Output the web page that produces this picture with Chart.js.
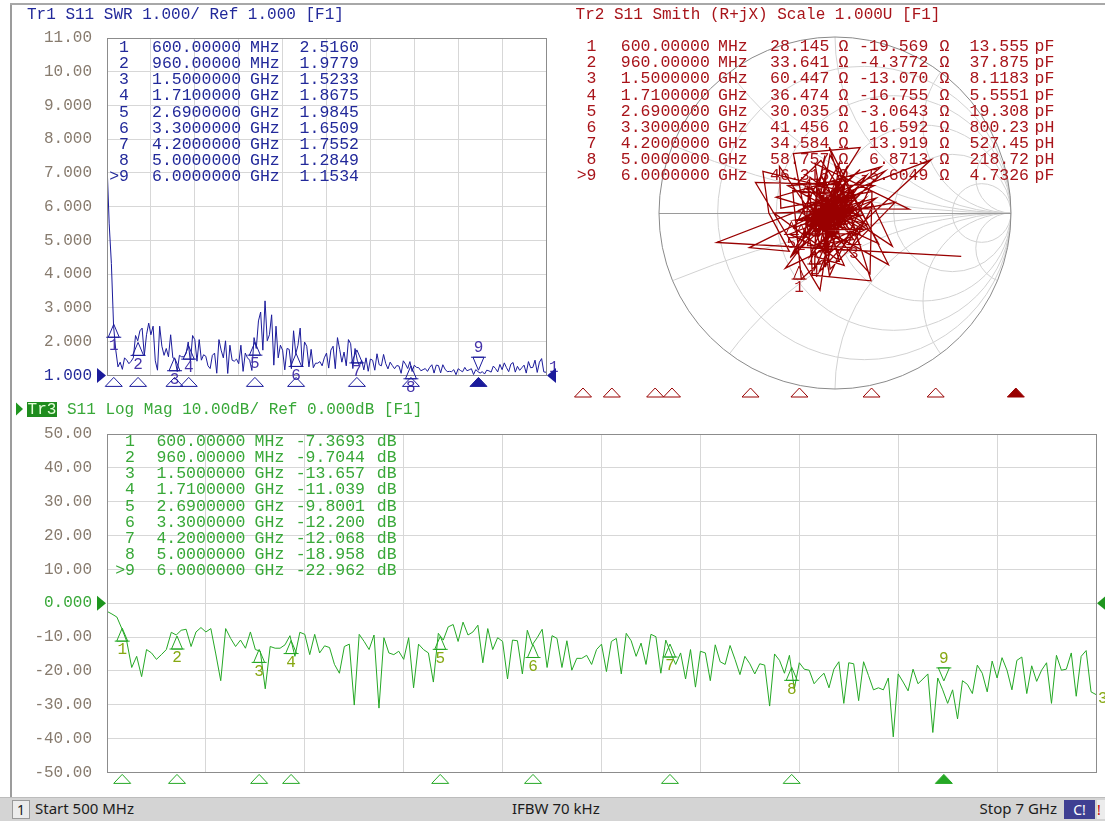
<!DOCTYPE html>
<html>
<head>
<meta charset="utf-8">
<title>S11 – SWR / Smith / Log Mag</title>
<script src="https://cdn.jsdelivr.net/npm/chart.js@4.4.1/dist/chart.umd.min.js"></script>
<style>
  html, body { margin: 0; padding: 0; background: #ffffff; }
  body { position: relative; width: 1105px; height: 821px; overflow: hidden; }
  canvas { position: absolute; display: block; box-sizing: content-box; border: 0; padding: 0; }
  #swrChart { left: 0; top: 0; width: 560px; height: 400px; }
  #smithChart { left: 560px; top: 0; width: 545px; height: 400px; }
  #logChart { left: 0; top: 400px; width: 1105px; height: 397px; }
  #edgeLeft { position: absolute; left: 10px; top: 3px; width: 2px; height: 794px; background: #9c9c9c; }
  #edgeTop { position: absolute; left: 10px; top: 3px; width: 1095px; height: 2px; background: #a8a8a8; }
  #status { position: absolute; left: 0; top: 797px; width: 1105px; height: 24px; background: #d4d4d4;
            border-top: 1px solid #bcbcbc; box-sizing: border-box;
            font-family: "Noto Sans", "DejaVu Sans", sans-serif; font-size: 15px; color: #1c1c1c; }
  #status span { position: absolute; top: 0px; white-space: nowrap; }
  #chan { position: absolute; left: 12px; top: 2px; width: 18px; height: 19px; background: #ececec;
          border: 1px solid #9a9a9a; box-sizing: border-box; text-align: center; line-height: 17px; font-size: 14px; }
  #cal { position: absolute; left: 1064px; top: 2px; width: 31px; height: 19px; background: #3f3f92;
         color: #ffffff; text-align: center; line-height: 19px; font-size: 14px; }
  #warn { position: absolute; left: 1097px; top: 2px; width: 8px; height: 19px; background: #ececec;
          color: #c00000; line-height: 19px; font-size: 14px; }
</style>
</head>
<body>
<div id="edgeLeft"></div>
<div id="edgeTop"></div>
<canvas id="swrChart" width="560" height="400"></canvas>
<canvas id="smithChart" width="545" height="400"></canvas>
<canvas id="logChart" width="1105" height="397"></canvas>
<div id="status">
  <div id="chan">1</div>
  <span style="left:35px">Start 500 MHz</span>
  <span style="left:512px">IFBW 70 kHz</span>
  <span style="right:48px">Stop 7 GHz</span>
  <div id="cal">C!</div>
  <div id="warn">!</div>
</div>
<script>
// ---------------- sweep ----------------
const sweepStartGHz = 0.5;
const sweepStopGHz = 7.0;

// S11 magnitude (dB) for each of the 201 sweep points
const s11Db = [
  -2.4, -3.2, -4.1, -7.5, -11.3, -19.0, -15.7, -21.7, -13.7, -14.7,
  -16.6, -15.2, -13.7, -8.6, -9.4, -8.0, -7.7, -12.8, -8.5, -7.2,
  -8.5, -7.5, -15.0, -22.9, -7.5, -10.4, -12.8, -10.9, -13.3, -8.5,
  -13.7, -14.2, -25.3, -12.8, -13.3, -13.3, -12.3, -9.6, -15.7, -8.6,
  -9.2, -15.2, -9.2, -14.7, -12.6, -13.1, -18.1, -20.7, -12.8, -12.1,
  -30.1, -9.2, -11.3, -13.7, -9.4, -31.0, -10.2, -14.7, -15.2, -14.2,
  -16.6, -10.2, -25.0, -12.1, -13.7, -14.7, -23.3, -8.9, -10.9, -7.0,
  -6.3, -11.3, -5.6, -9.4, -8.5, -6.5, -17.6, -7.5, -13.7, -10.2,
  -11.3, -22.4, -10.9, -11.1, -20.9, -8.0, -12.3, -10.2, -7.7, -19.0,
  -9.6, -10.4, -19.0, -11.1, -19.8, -16.3, -16.3, -15.4, -18.1, -13.7,
  -12.1, -20.2, -11.3, -10.4, -20.9, -8.9, -11.1, -15.7, -11.8, -18.1,
  -9.2, -9.9, -20.7, -10.9, -14.7, -18.1, -14.7, -22.4, -13.7, -24.8,
  -14.2, -14.7, -22.9, -12.3, -17.3, -18.1, -12.5, -16.6, -21.1, -15.7,
  -17.9, -20.9, -17.9, -18.3, -30.4, -15.0, -16.9, -20.7, -15.4, -25.3,
  -17.6, -19.5, -19.8, -23.8, -22.1, -20.7, -25.0, -19.5, -17.3, -29.6,
  -17.6, -17.9, -28.8, -17.3, -21.4, -25.6, -25.0, -25.6, -22.1, -39.5,
  -20.9, -23.3, -25.9, -19.5, -23.8, -22.4, -20.9, -38.2, -22.1, -25.6,
  -29.6, -25.6, -34.2, -22.9, -24.0, -26.7, -18.3, -20.7, -26.2, -17.1,
  -22.1, -16.1, -19.8, -25.6, -16.9, -15.9, -26.7, -18.5, -23.1, -19.8,
  -17.6, -29.6, -15.4, -19.8, -19.5, -14.7, -27.5, -15.7, -14.0, -26.2,
  -27.0
];

// S11 phase (degrees) for each sweep point
const s11PhaseDeg = [
  -19, 194, 29, -117, 152, 63, -160, 88, 215, -40,
  130, -75, 176, 40, -135, 69, 125, 233, 250, -62,
  95, -44, -170, 160, 3, 112, -98, 205, 18, -30,
  140, 72, -120, 190, 10, -65, 230, 100, -150, 45,
  165, -20, 255, 60, -110, 135, 200, -45, 110, -160,
  30, 180, -85, 120, 250, -10, 150, 80, -130, 215,
  55, -100, 170, 20, 240, -55, 125, -135, 85, -101,
  159, 35, 202, -140, 180, 150, 68, 228, -25, 105,
  140, 10, -120, 75, 200, -60, 30, 175, 140, -150,
  95, -35, 185, 50, -115, 160, -5, 220, 70, -145,
  125, 15, 245, -80, 170, 265, 40, -125, 100, 195,
  10, -95, 145, 60, -160, 230, 25, -70, 190, 115,
  -20, 250, 80, -140, 160, 35, -105, 210, 120, -50,
  175, 65, -155, 240, 15, 135, -85, 200, 90, -30,
  155, 45, -130, 225, 105, -65, 180, 20, -110, 140,
  260, 55, -150, 195, -15, 120, 235, 75, -95, 165,
  0, 215, -45, 130, 85, -170, 250, 35, -120, 150,
  -25, 205, 95, -140, 170, 60, -80, 240, 115, -5,
  190, 40, -135, 145, 225, 70, -60, 175, -100, 20,
  205, 130, -155, 80, 245, -30, 160, 50, -115, 185,
  -40
];

// ---------------- axes ----------------
const freqGridGHz = [0.5, 1.15, 1.8, 2.45, 3.1, 3.75, 4.4, 5.05, 5.7, 6.35, 7.0];
const swrTicks = [1, 2, 3, 4, 5, 6, 7, 8, 9, 10, 11];
const swrTickLabels = ['1.000', '2.000', '3.000', '4.000', '5.000', '6.000', '7.000', '8.000', '9.000', '10.00', '11.00'];
const dbTicks = [-50, -40, -30, -20, -10, 0, 10, 20, 30, 40, 50];
const dbTickLabels = ['-50.00', '-40.00', '-30.00', '-20.00', '-10.00', '0.000', '10.00', '20.00', '30.00', '40.00', '50.00'];
const smithResistance = [0.2, 0.5, 1, 2, 5];
const smithReactance = [0.2, 0.5, 1, 2, 5];

// ---------------- markers ----------------
const markerFreqGHz = [0.6, 0.96, 1.5, 1.71, 2.69, 3.3, 4.2, 5.0, 6.0];
const markerFreqText = ['600.00000', '960.00000', '1.5000000', '1.7100000', '2.6900000', '3.3000000', '4.2000000', '5.0000000', '6.0000000'];
const markerFreqUnit = ['MHz', 'MHz', 'GHz', 'GHz', 'GHz', 'GHz', 'GHz', 'GHz', 'GHz'];
const markerSwr = [2.5160, 1.9779, 1.5233, 1.8675, 1.9845, 1.6509, 1.7552, 1.2849, 1.1534];
const markerDb = [-7.3693, -9.7044, -13.657, -11.039, -9.8001, -12.200, -12.068, -18.958, -22.962];
const markerOhmR = [28.145, 33.641, 60.447, 36.474, 30.035, 41.456, 34.584, 58.757, 46.318];
const markerOhmX = [-19.569, -4.3772, -13.070, -16.755, -3.0643, 16.592, 13.919, 6.8713, -5.6049];
const markerLc = [13.555, 37.875, 8.1183, 5.5551, 19.308, 800.23, 527.45, 218.72, 4.7326];
const markerLcUnit = ['pF', 'pF', 'pF', 'pF', 'pF', 'pH', 'pH', 'pH', 'pF'];
const activeMarker = 8;
const refImpedance = 50;

// ---------------- derived traces ----------------
const pointCount = s11Db.length;
const freqGHz = s11Db.map((_, i) => sweepStartGHz + i * (sweepStopGHz - sweepStartGHz) / (pointCount - 1));
const linMag = s11Db.map(db => Math.pow(10, db / 20));
const swrTrace = linMag.map(g => (1 + g) / (1 - g));
const gammaRe = linMag.map((g, i) => g * Math.cos(s11PhaseDeg[i] * Math.PI / 180));
const gammaIm = linMag.map((g, i) => g * Math.sin(s11PhaseDeg[i] * Math.PI / 180));
const markerGamma = markerOhmR.map((r, k) => {
  const x = markerOhmX[k];
  const nr = r - refImpedance, dr = r + refImpedance;
  const den = dr * dr + x * x;
  return { re: (nr * dr + x * x) / den, im: (x * dr - nr * x) / den };
});

// ---------------- styling ----------------
const MONO = '"Liberation Mono", "DejaVu Sans Mono", monospace';
const HEAD_FONT = '16px ' + MONO;
const TABLE_FONT = '16.5px ' + MONO;
const GRID = '#d7d7d7';
const FRAME = '#8c8c8c';
const TICK_TXT = '#877b6e';
const BLUE = '#1b1b9b', BLUE_TXT = '#22299a', BLUE_NUM = '#4634aa';
const RED = '#990000', RED_TXT = '#a8141a';
const GREEN = '#25a825', GREEN_TXT = '#38a838', GREEN_NUM = '#86a812';

const fmt5 = v => v.toPrecision(5);
const markerTag = k => (k === activeMarker ? '>' : '') + (k + 1);

function text(ctx, s, x, y, color, align, font) {
  ctx.font = font || TABLE_FONT;
  ctx.fillStyle = color;
  ctx.textAlign = align || 'left';
  ctx.textBaseline = 'middle';
  ctx.fillText(s, x, y);
}

function frame(ctx, a) {
  ctx.save();
  ctx.strokeStyle = FRAME;
  ctx.lineWidth = 1;
  ctx.strokeRect(Math.round(a.left) + 0.5, Math.round(a.top) + 0.5,
                 Math.round(a.right) - Math.round(a.left), Math.round(a.bottom) - Math.round(a.top));
  ctx.restore();
}

// marker glyph sitting on a trace point: up-triangle below, or down-triangle above for the active one
function traceMarker(ctx, x, y, active, color, numColor, label) {
  const h = 13, w = 5.5;
  ctx.save();
  ctx.strokeStyle = color;
  ctx.lineWidth = 1;
  ctx.beginPath();
  if (active) {
    ctx.moveTo(x, y); ctx.lineTo(x - w, y - h); ctx.lineTo(x + w, y - h); ctx.closePath();
  } else {
    ctx.moveTo(x, y); ctx.lineTo(x - w, y + h); ctx.lineTo(x + w, y + h); ctx.closePath();
  }
  ctx.stroke();
  ctx.beginPath();
  const yb = active ? y - h : y + h;
  ctx.moveTo(x - w - 2, yb); ctx.lineTo(x + w + 2, yb);
  ctx.stroke();
  text(ctx, label, x, active ? y - h - 9 : y + h + 9, numColor, 'center', HEAD_FONT);
  ctx.restore();
}

// marker position triangles along the frequency strip
function stripMarker(ctx, x, yTop, filled, color) {
  ctx.save();
  ctx.beginPath();
  ctx.moveTo(x, yTop); ctx.lineTo(x - 8.5, yTop + 9); ctx.lineTo(x + 8.5, yTop + 9); ctx.closePath();
  ctx.strokeStyle = color; ctx.lineWidth = 1;
  if (filled) { ctx.fillStyle = color; ctx.fill(); }
  ctx.stroke();
  ctx.restore();
}

// reference level arrow; dir = 1 points right, -1 points left
function refArrow(ctx, xTip, y, dir, color) {
  ctx.save();
  ctx.beginPath();
  ctx.moveTo(xTip, y); ctx.lineTo(xTip - dir * 9, y - 7.5); ctx.lineTo(xTip - dir * 9, y + 7.5); ctx.closePath();
  ctx.fillStyle = color; ctx.fill();
  ctx.restore();
}

// adjust the layout padding until the plot area sits on the wanted frame
function pinPlotArea(chart, want) {
  const p = chart.config.options.layout.padding;
  for (let pass = 0; pass < 4; pass++) {
    const ys = chart.scales.y, xs = chart.scales.x;
    const dTop = want.top - ys.top, dBottom = ys.bottom - want.bottom;
    const dLeft = want.left - xs.left, dRight = xs.right - want.right;
    if (Math.abs(dTop) < 0.5 && Math.abs(dBottom) < 0.5 && Math.abs(dLeft) < 0.5 && Math.abs(dRight) < 0.5) break;
    p.top += dTop; p.bottom += dBottom; p.left += dLeft; p.right += dRight;
    chart.update('none');
  }
}

function baseOptions(padding) {
  return {
    responsive: false,
    maintainAspectRatio: false,
    devicePixelRatio: 1,
    animation: false,
    events: [],
    layout: { padding, autoPadding: false },
    plugins: { legend: { display: false }, tooltip: { enabled: false } }
  };
}

function cartesianOptions(yMin, yMax, yTicks, yLabels, refValue, refColor, padding) {
  return Object.assign(baseOptions(padding), {
    scales: {
      x: {
        type: 'linear', min: sweepStartGHz, max: sweepStopGHz,
        afterBuildTicks: s => { s.ticks = freqGridGHz.map(v => ({ value: v })); },
        afterFit: s => { s.height = 0; },
        ticks: { display: false },
        grid: { color: GRID, lineWidth: 1, drawTicks: false },
        border: { display: false }
      },
      y: {
        type: 'linear', min: yMin, max: yMax,
        afterBuildTicks: s => { s.ticks = yTicks.map(v => ({ value: v })); },
        afterFit: s => { s.width = 107; },
        ticks: {
          padding: 15,
          font: { family: MONO, size: 16 },
          color: c => (c.tick && c.tick.value === refValue ? refColor : TICK_TXT),
          callback: (v, i) => yLabels[i]
        },
        grid: { color: GRID, lineWidth: 1, drawTicks: false },
        border: { display: false }
      }
    }
  });
}

// ---------------- Tr1: SWR ----------------
const swrOverlay = {
  id: 'swrOverlay',
  afterDatasetsDraw(chart) {
    const { ctx } = chart;
    const xs = chart.scales.x, ys = chart.scales.y;
    const a = { left: xs.left, right: xs.right, top: ys.top, bottom: ys.bottom };
    frame(ctx, a);
    text(ctx, 'Tr1 S11 SWR 1.000/ Ref 1.000 [F1]', 27, 15, BLUE_TXT, 'left', HEAD_FONT);
    markerFreqGHz.forEach((f, k) => {
      const y = 47.7 + 16.12 * k;
      text(ctx, markerTag(k), 129, y, BLUE_TXT, 'right');
      text(ctx, markerFreqText[k], 152, y, BLUE_TXT);
      text(ctx, markerFreqUnit[k], 250, y, BLUE_TXT);
      text(ctx, fmt5(markerSwr[k]), 359, y, BLUE_TXT, 'right');
    });
    markerFreqGHz.forEach((f, k) => {
      traceMarker(ctx, xs.getPixelForValue(f), ys.getPixelForValue(markerSwr[k]),
                  k === activeMarker, BLUE, BLUE_NUM, String(k + 1));
      stripMarker(ctx, xs.getPixelForValue(f), a.bottom + 2, k === activeMarker, BLUE);
    });
    text(ctx, '1', a.right + 3, ys.getPixelForValue(swrTrace[pointCount - 1]) - 4, BLUE_NUM, 'left', HEAD_FONT);
    refArrow(ctx, a.left - 1, ys.getPixelForValue(1), 1, BLUE);
    refArrow(ctx, a.right + 1, ys.getPixelForValue(1), -1, BLUE);
  }
};

const swrChart = new Chart(document.getElementById('swrChart'), {
  type: 'line',
  data: {
    datasets: [{
      data: swrTrace.map((v, i) => ({ x: freqGHz[i], y: v })),
      borderColor: BLUE, borderWidth: 1, pointRadius: 0, tension: 0
    }]
  },
  options: cartesianOptions(1, 11, swrTicks, swrTickLabels, 1, BLUE_TXT,
                            { left: 0, right: 14, top: 38, bottom: 14 }),
  plugins: [swrOverlay]
});
pinPlotArea(swrChart, { left: 107, right: 546, top: 38, bottom: 386 });

// ---------------- Tr2: Smith chart ----------------
const smithStrip = { left: 15, right: 536, top: 388 };

const smithOverlay = {
  id: 'smithOverlay',
  beforeDatasetsDraw(chart) {
    const { ctx } = chart;
    const xs = chart.scales.x, ys = chart.scales.y;
    const px = v => xs.getPixelForValue(v), py = v => ys.getPixelForValue(v);
    const cx = px(0), cy = py(0), R = px(1) - px(0);

    // impedance grid
    ctx.save();
    ctx.beginPath(); ctx.arc(cx, cy, R, 0, Math.PI * 2); ctx.clip();
    ctx.strokeStyle = '#d2d2d2'; ctx.lineWidth = 1;
    smithResistance.forEach(r => {
      ctx.beginPath();
      ctx.arc(px(r / (1 + r)), cy, R / (1 + r), 0, Math.PI * 2);
      ctx.stroke();
    });
    smithReactance.forEach(x => {
      [1, -1].forEach(s => {
        ctx.beginPath();
        ctx.arc(px(1), py(s / x), R / x, 0, Math.PI * 2);
        ctx.stroke();
      });
    });
    ctx.restore();
    ctx.save();
    ctx.strokeStyle = '#9a9a9a'; ctx.lineWidth = 1.2;
    ctx.beginPath(); ctx.moveTo(px(-1), Math.round(cy) + 0.5); ctx.lineTo(px(1), Math.round(cy) + 0.5); ctx.stroke();
    ctx.strokeStyle = '#8a8a8a'; ctx.lineWidth = 1;
    ctx.beginPath(); ctx.arc(cx, cy, R, 0, Math.PI * 2); ctx.stroke();
    ctx.restore();

    // header and marker table
    text(ctx, 'Tr2 S11 Smith (R+jX) Scale 1.000U [F1]', 15.6, 15, RED_TXT, 'left', HEAD_FONT);
    markerFreqGHz.forEach((f, k) => {
      const y = 46.7 + 16.16 * k;
      text(ctx, markerTag(k), 36.5, y, RED_TXT, 'right');
      text(ctx, markerFreqText[k], 60.8, y, RED_TXT);
      text(ctx, markerFreqUnit[k], 158, y, RED_TXT);
      text(ctx, fmt5(markerOhmR[k]), 269.4, y, RED_TXT, 'right');
      text(ctx, 'Ω', 278.5, y, RED_TXT);
      text(ctx, fmt5(markerOhmX[k]), 368.4, y, RED_TXT, 'right');
      text(ctx, 'Ω', 379.6, y, RED_TXT);
      text(ctx, fmt5(markerLc[k]), 469, y, RED_TXT, 'right');
      text(ctx, markerLcUnit[k], 474.5, y, RED_TXT);
    });

    // markers at their impedance readouts (drawn beneath the trace)
    markerGamma.forEach((g, k) => {
      traceMarker(ctx, px(g.re), py(g.im), k === activeMarker, RED, RED_TXT, String(k + 1));
    });
  },
  afterDraw(chart) {
    const { ctx } = chart;
    const span = smithStrip.right - smithStrip.left;
    markerFreqGHz.forEach((f, k) => {
      const x = smithStrip.left + (f - sweepStartGHz) / (sweepStopGHz - sweepStartGHz) * span;
      stripMarker(ctx, x, smithStrip.top, k === activeMarker, RED);
    });
  }
};

const smithChart = new Chart(document.getElementById('smithChart'), {
  type: 'scatter',
  data: {
    datasets: [{
      data: gammaRe.map((re, i) => ({ x: re, y: gammaIm[i] })),
      showLine: true, borderColor: RED, borderWidth: 1.3, pointRadius: 0, tension: 0
    }]
  },
  options: Object.assign(baseOptions({ left: 99, right: 94, top: 37, bottom: 11 }), {
    scales: {
      x: { type: 'linear', min: -1, max: 1, display: false },
      y: { type: 'linear', min: -1, max: 1, display: false }
    }
  }),
  plugins: [smithOverlay]
});
pinPlotArea(smithChart, { left: 99, right: 451, top: 37, bottom: 389 });

// ---------------- Tr3: Log Mag ----------------
const logOverlay = {
  id: 'logOverlay',
  afterDatasetsDraw(chart) {
    const { ctx } = chart;
    const xs = chart.scales.x, ys = chart.scales.y;
    const a = { left: xs.left, right: xs.right, top: ys.top, bottom: ys.bottom };
    frame(ctx, a);

    // active trace header
    ctx.save();
    ctx.beginPath(); ctx.moveTo(23, 9); ctx.lineTo(16, 2.5); ctx.lineTo(16, 15.5); ctx.closePath();
    ctx.fillStyle = '#1f961f'; ctx.fill();
    ctx.fillStyle = '#1e8c1e'; ctx.fillRect(27, 2, 30, 15);
    ctx.restore();
    text(ctx, 'Tr3', 42, 9.5, '#e4ffd8', 'center', HEAD_FONT);
    text(ctx, 'S11 Log Mag 10.00dB/ Ref 0.000dB [F1]', 67, 9.5, GREEN_TXT, 'left', HEAD_FONT);

    markerFreqGHz.forEach((f, k) => {
      const y = 41.7 + 16.12 * k;
      text(ctx, markerTag(k), 135, y, GREEN_TXT, 'right');
      text(ctx, markerFreqText[k], 156.4, y, GREEN_TXT);
      text(ctx, markerFreqUnit[k], 254.6, y, GREEN_TXT);
      text(ctx, fmt5(markerDb[k]), 365, y, GREEN_TXT, 'right');
      text(ctx, 'dB', 376.8, y, GREEN_TXT);
    });
    markerFreqGHz.forEach((f, k) => {
      traceMarker(ctx, xs.getPixelForValue(f), ys.getPixelForValue(markerDb[k]),
                  k === activeMarker, GREEN, GREEN_NUM, String(k + 1));
      stripMarker(ctx, xs.getPixelForValue(f), a.bottom + 2, k === activeMarker, GREEN);
    });
    text(ctx, '3', a.right + 2, ys.getPixelForValue(s11Db[pointCount - 1]) + 4, GREEN_NUM, 'left', HEAD_FONT);
    refArrow(ctx, a.left - 1, ys.getPixelForValue(0), 1, '#1e961e');
    refArrow(ctx, a.right + 1, ys.getPixelForValue(0), -1, '#1e961e');
  }
};

const logChart = new Chart(document.getElementById('logChart'), {
  type: 'line',
  data: {
    datasets: [{
      data: s11Db.map((v, i) => ({ x: freqGHz[i], y: v })),
      borderColor: GREEN, borderWidth: 1, pointRadius: 0, tension: 0
    }]
  },
  options: cartesianOptions(-50, 50, dbTicks, dbTickLabels, 0, GREEN_TXT,
                            { left: 0, right: 9, top: 34, bottom: 16 }),
  plugins: [logOverlay]
});
pinPlotArea(logChart, { left: 107, right: 1096, top: 34, bottom: 381 });
</script>
</body>
</html>
